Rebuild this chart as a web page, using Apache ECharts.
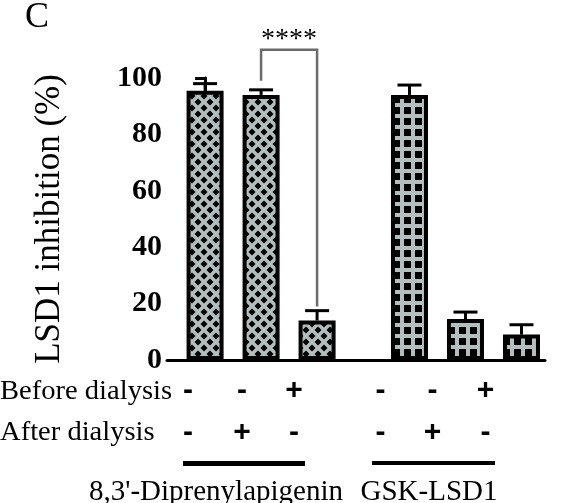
<!DOCTYPE html>
<html><head><meta charset="utf-8">
<script src="https://cdn.jsdelivr.net/npm/echarts@6/dist/echarts.min.js"></script>
<style>html,body{margin:0;background:#fff}#c{width:563px;height:503px}</style>
</head><body><div id="c"></div>
<script>
// bar positions along x (group gap between 2 and 3.65)
const slots = [0, 1, 2, 3.65, 4.65, 5.65];
const values = [95.5, 94, 14, 94, 14.5, 9];
const errors = [2.5, 1.8, 3.5, 3.5, 2.5, 3.5];
const beforeDialysis = ['-', '-', '+', '-', '-', '+'];
const afterDialysis = ['-', '+', '-', '-', '+', '-'];
const groupNames = ["8,3'-Diprenylapigenin", 'GSK-LSD1'];
const font = '"Liberation Serif", "DejaVu Serif", serif';
const sans = '"Liberation Sans", Arial, sans-serif';

function diamonds() {
    const c = document.createElement('canvas'); c.width = c.height = 12;
    const g = c.getContext('2d');
    g.fillStyle = '#b3bfbf'; g.fillRect(0, 0, 12, 12);
    g.fillStyle = '#000';
    const d = (x, y) => { g.beginPath(); g.moveTo(x, y - 3.5); g.lineTo(x + 3.5, y); g.lineTo(x, y + 3.5); g.lineTo(x - 3.5, y); g.closePath(); g.fill(); };
    d(6, 6); d(0, 0); d(12, 0); d(0, 12); d(12, 12);
    return c;
}
function grid() {
    const c = document.createElement('canvas'); c.width = c.height = 11;
    const g = c.getContext('2d');
    g.fillStyle = '#000'; g.fillRect(0, 0, 11, 11);
    g.fillStyle = '#b3bfbf'; g.fillRect(0, 4, 11, 4); g.fillRect(4, 0, 4, 11);
    return c;
}
const pats = [{ image: diamonds(), repeat: 'repeat' }, { image: grid(), repeat: 'repeat' }];

const chart = echarts.init(document.getElementById('c'));
const barData = slots.map((s, i) => ({ value: [s, values[i]], itemStyle: { color: pats[i < 3 ? 0 : 1] } }));

chart.setOption({
    animation: false,
    grid: { left: 167, right: 18, top: 78, bottom: 143 },
    xAxis: { type: 'value', min: -0.68, max: 6.07, axisLine: { show: true, lineStyle: { color: '#000', width: 3 } },
        axisTick: { show: false }, axisLabel: { show: false }, splitLine: { show: false } },
    yAxis: { type: 'value', min: 0, max: 100, interval: 20,
        name: 'LSD1 inhibition (%)', nameLocation: 'middle', nameGap: 100,
        nameTextStyle: { fontFamily: font, fontSize: 35, color: '#000' },
        axisLine: { show: true, lineStyle: { color: '#000', width: 3 } },
        axisTick: { show: true, length: 10, lineStyle: { color: '#000', width: 3 } },
        axisLabel: { fontFamily: font, fontSize: 30, fontWeight: 'bold', color: '#000', margin: 5 },
        splitLine: { show: false } },
    series: [
        { type: 'bar', data: barData, barWidth: 37, itemStyle: { borderColor: '#000', borderWidth: 4 } },
        { type: 'custom', clip: false, z: 5,
          data: slots.map((s, i) => [s, values[i], values[i] + errors[i]]),
          renderItem(p, api) {
              const b = api.coord([api.value(0), api.value(1)]);
              const t = api.coord([api.value(0), api.value(2)]);
              const st = { stroke: '#000', lineWidth: 3 };
              return { type: 'group', children: [
                  { type: 'line', shape: { x1: b[0], y1: b[1], x2: t[0], y2: t[1] }, style: st },
                  { type: 'line', shape: { x1: t[0] - 12, y1: t[1], x2: t[0] + 12, y2: t[1] }, style: st }
              ] };
          } },
        { type: 'custom', clip: false, z: 5, data: [[1, 2, 99, 110, 19]],
          renderItem(p, api) {
              const a = api.coord([api.value(0), api.value(2)]);
              const top = api.coord([api.value(0), api.value(3)]);
              const c = api.coord([api.value(1), api.value(4)]);
              return { type: 'group', children: [
                  { type: 'polyline', shape: { points: [a, [a[0], top[1]], [c[0], top[1]], c] }, style: { stroke: '#6b6b6b', lineWidth: 2.5, fill: null } },
                  { type: 'text', style: { x: (a[0] + c[0]) / 2, y: top[1] + 4, text: '****', fontFamily: font, fontSize: 28, fill: '#000', align: 'center', verticalAlign: 'bottom' } }
              ] };
          } }
    ]
});

const px = s => chart.convertToPixel({ xAxisIndex: 0 }, s);
const g = [
    { type: 'text', left: 25, top: 0, style: { text: 'C', font: '36px ' + font, fill: '#000' } },
    { type: 'text', x: 0, y: 392, scaleX: 1.02, style: { text: 'Before dialysis', font: '28px ' + font, fill: '#000', verticalAlign: 'middle' } },
    { type: 'text', x: 0, y: 433, scaleX: 1.02, style: { text: 'After dialysis', font: '28px ' + font, fill: '#000', verticalAlign: 'middle' } }
];
const signOffset = [-17, -19, -23, -29, -33, -36];
slots.forEach((s, i) => {
    g.push({ type: 'text', x: px(s) + signOffset[i], y: 391, style: { text: beforeDialysis[i], font: 'bold 30px ' + sans, fill: '#000', align: 'center', verticalAlign: 'middle' } });
    g.push({ type: 'text', x: px(s) + signOffset[i], y: 433, style: { text: afterDialysis[i], font: 'bold 30px ' + sans, fill: '#000', align: 'center', verticalAlign: 'middle' } });
});
const lineSpans = [[183, 305, 5], [372, 495, 4]];
const textX = [216, 429];
groupNames.forEach((name, i) => {
    const [x1, x2, h] = lineSpans[i];
    g.push({ type: 'rect', shape: { x: x1, y: 461, width: x2 - x1, height: h }, style: { fill: '#000' } });
    g.push({ type: 'text', x: textX[i], y: 492, style: { text: name, font: '29px ' + font, fill: '#000', align: 'center', verticalAlign: 'middle' } });
});
chart.setOption({ graphic: g });
</script></body></html>
